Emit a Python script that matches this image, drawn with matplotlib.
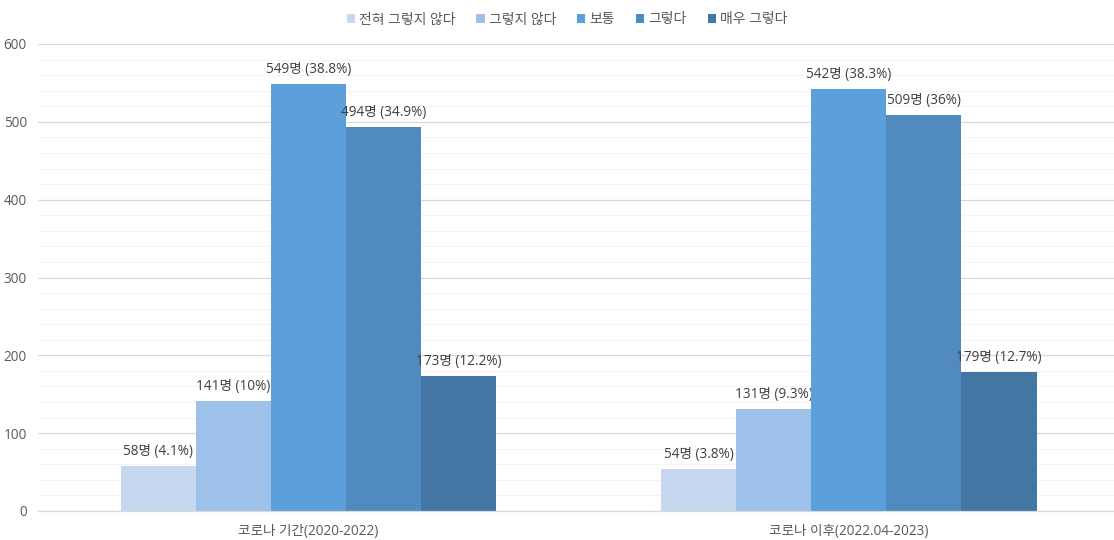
import matplotlib
matplotlib.use("Agg")
import matplotlib.pyplot as plt
from matplotlib.ticker import MultipleLocator
import numpy as np

plt.rcParams['font.family'] = ['Open Sans', 'Noto Sans CJK KR', 'DejaVu Sans']

categories = ["코로나 기간(2020-2022)", "코로나 이후(2022.04-2023)"]
series_names = ["전혀 그렇지 않다", "그렇지 않다", "보통", "그렇다", "매우 그렇다"]
counts = [
    [58, 54],
    [141, 131],
    [549, 542],
    [494, 509],
    [173, 179],
]
percents = [
    ["4.1%", "3.8%"],
    ["10%", "9.3%"],
    ["38.8%", "38.3%"],
    ["34.9%", "36%"],
    ["12.2%", "12.7%"],
]
colors = ["#C5D8EF", "#9DC1E9", "#5B9FDB", "#508AC0", "#4376A3"]

fig = plt.figure(figsize=(11.14, 5.4), dpi=100)
ax = fig.add_axes([38/1114, 29/540, 1078/1114, 467/540])

x = np.arange(len(categories))
w = 0.1388
for i, (name, vals, pcts, c) in enumerate(zip(series_names, counts, percents, colors)):
    pos = x + (i - 2) * w
    bars = ax.bar(pos, vals, width=w, color=c, label=name, zorder=3)
    for b, v, p in zip(bars, vals, pcts):
        ax.annotate(f"{v}명 ({p})", (b.get_x() + b.get_width() / 2, v),
                    xytext=(0, 5), textcoords="offset points",
                    ha="center", va="bottom", fontsize=9.8, color="#404040")

ax.set_xlim(-0.5, 1.494)
ax.set_ylim(0, 600)
ax.yaxis.set_major_locator(MultipleLocator(100))
ax.yaxis.set_minor_locator(MultipleLocator(20))
ax.grid(axis="y", which="major", color="#D9D9D9", linewidth=0.9, zorder=0)
ax.grid(axis="y", which="minor", color="#F4F4F4", linewidth=0.8, zorder=0)
ax.set_xticks(x)
ax.set_xticklabels(categories)
ax.tick_params(axis="both", which="both", length=0, colors="#595959", labelsize=9.8)
ax.tick_params(axis="x", pad=9)
ax.tick_params(axis="y", pad=8)
for s in ["top", "right", "left"]:
    ax.spines[s].set_visible(False)
ax.spines["bottom"].set_color("#D9D9D9")
ax.spines["bottom"].set_linewidth(0.9)
ax.spines["bottom"].set_zorder(4)

leg = fig.legend(loc="upper center", bbox_to_anchor=(567/1114, 1.0), ncol=5, frameon=False,
                 fontsize=10, handlelength=0.6, handleheight=0.6, handletextpad=0.3,
                 columnspacing=1.5)
for t in leg.get_texts():
    t.set_color("#595959")

fig.savefig("out.png", dpi=100)
